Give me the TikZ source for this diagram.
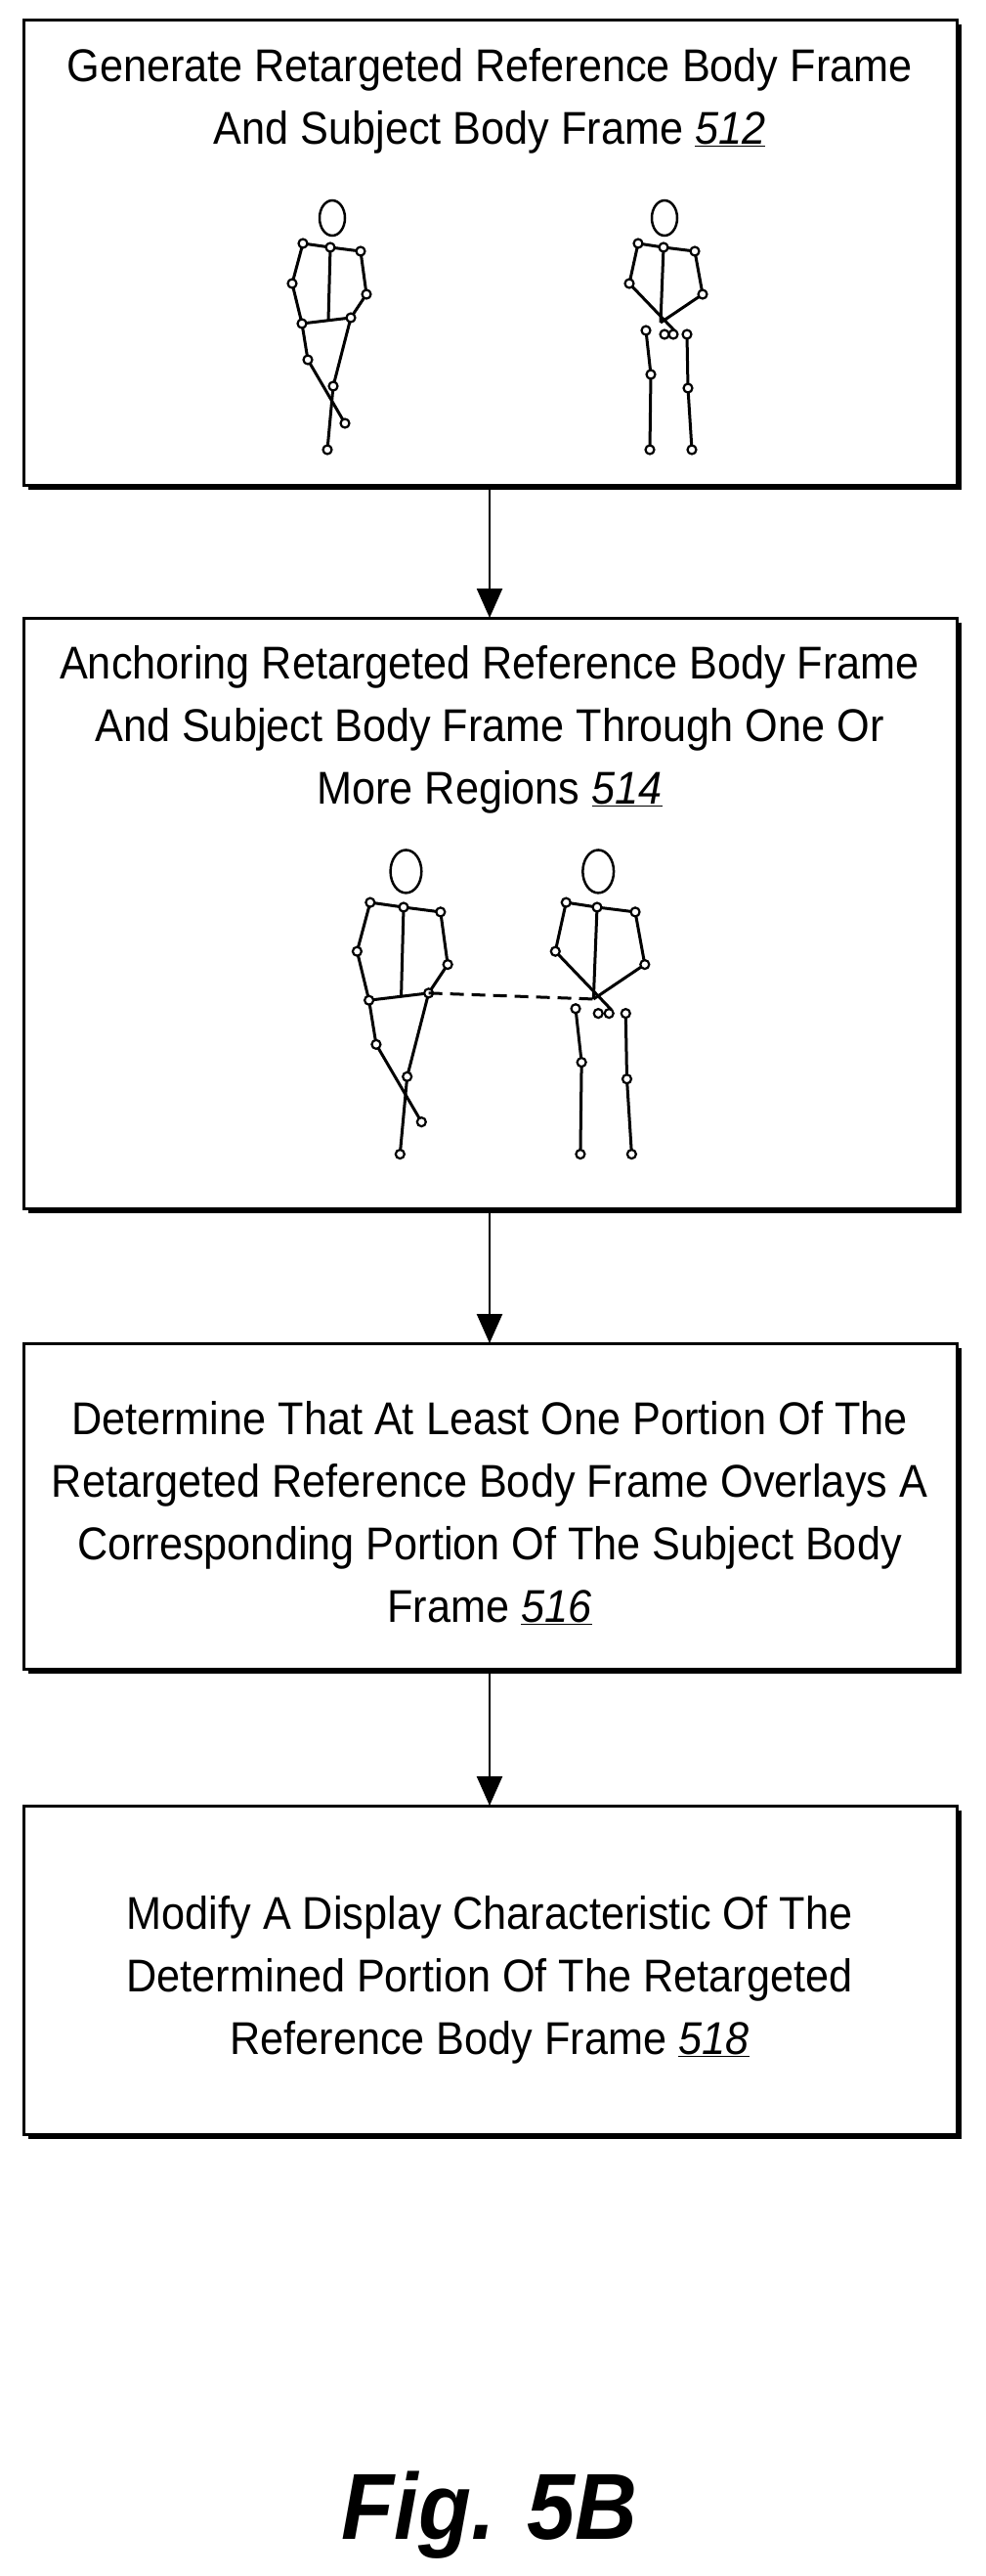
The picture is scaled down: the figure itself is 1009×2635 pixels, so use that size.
\documentclass[tikz,border=0pt]{standalone}
\usepackage{fontspec}
\setmainfont[FakeStretch=0.92]{Liberation Sans}
\usetikzlibrary{positioning,arrows.meta}

\tikzset{
  boxtext/.style={align=center, font=\fontsize{47}{64}\selectfont},
  flow/.style={line width=2.5pt, -{Triangle[length=30pt, width=26pt]}},
  bone/.style={line width=3pt},
  joint/.style={draw, line width=2.2pt, fill=white, circle, inner sep=0pt, minimum size=9pt},
  refbody/.pic={
    \coordinate (-neck) at (0,0);
    \coordinate (-lsh) at (-28,-4);  \coordinate (-rsh) at (31,4);
    \coordinate (-lel) at (-39,37);  \coordinate (-rel) at (37,48);
    \coordinate (-lhip) at (-29,78); \coordinate (-rhip) at (21,72);
    \coordinate (-lkn) at (-23,115); \coordinate (-rkn) at (3,142);
    \coordinate (-la) at (15,180);   \coordinate (-ra) at (-3,207);
    \draw[line width=2.5pt] (2,-30) ellipse (13 and 18);
    \draw[bone] (-lsh) -- (-neck) -- (-rsh);
    \draw[bone] (-neck) -- (-2,75);
    \draw[bone] (-lsh) -- (-lel) -- (-lhip) -- (-rhip) -- (-rel) -- (-rsh);
    \draw[bone] (-lhip) -- (-lkn) -- (-la);
    \draw[bone] (-rhip) -- (-rkn) -- (-ra);
    \foreach \j in {neck,lsh,rsh,lel,rel,lhip,rhip,lkn,rkn,la,ra}
      \node[joint] at (-\j) {};
  },
  subjbody/.pic={
    \coordinate (-neck) at (0,0);
    \coordinate (-lsh) at (-26,-4);  \coordinate (-rsh) at (32,4);
    \coordinate (-lel) at (-35,37);  \coordinate (-rel) at (40,48);
    \coordinate (-hand) at (-3,77);
    \coordinate (-lhip) at (-18,85); \coordinate (-rhip) at (24,89);
    \coordinate (-lkn) at (-13,130); \coordinate (-rkn) at (25,144);
    \coordinate (-la) at (-14,207);  \coordinate (-ra) at (29,207);
    \draw[line width=2.5pt] (1,-30) ellipse (13 and 18);
    \draw[bone] (-lsh) -- (-neck) -- (-rsh);
    \draw[bone] (-neck) -- (-hand);
    \draw[bone] (-lsh) -- (-lel) -- (12,86);
    \draw[bone] (-rsh) -- (-rel) -- (-hand);
    \draw[bone] (-lhip) -- (-lkn) -- (-la);
    \draw[bone] (-rhip) -- (-rkn) -- (-ra);
    \foreach \j in {neck,lsh,rsh,lel,rel,lhip,rhip,lkn,rkn,la,ra}
      \node[joint] at (-\j) {};
    \node[joint] at (1,89) {};
    \node[joint] at (10,89) {};
  }
}

\begin{document}
\begin{tikzpicture}[x=1pt, y=-1pt]
  \useasboundingbox[fill=white] (0,0) rectangle (1009,2635);

  % boxes with drop shadow
  \foreach \t/\b in {20/496, 632/1236, 1374/1707, 1847/2183}
    \fill (29,\t+5) rectangle (984,\b+5);
  \draw[line width=3pt, fill=white] (24,20) rectangle (979,496);
  \draw[line width=3pt, fill=white] (24,632) rectangle (979,1236);
  \draw[line width=3pt, fill=white] (24,1374) rectangle (979,1707);
  \draw[line width=3pt, fill=white] (24,1847) rectangle (979,2183);
  \coordinate (b1s) at (501,501);  \coordinate (b2n) at (501,632);
  \coordinate (b2s) at (501,1241); \coordinate (b3n) at (501,1374);
  \coordinate (b3s) at (501,1712); \coordinate (b4n) at (501,1847);

  \node[boxtext] (t512) at (501,103) {Generate Retargeted Reference Body Frame\\And Subject Body Frame \underline{\textit{512}}};
  \node[boxtext] (t514) at (501,746) {Anchoring Retargeted Reference Body Frame\\And Subject Body Frame Through One Or\\More Regions \underline{\textit{514}}};
  \node[boxtext] (t516) at (501,1548) {Determine That At Least One Portion Of The\\Retargeted Reference Body Frame Overlays A\\Corresponding Portion Of The Subject Body\\Frame \underline{\textit{516}}};
  \node[boxtext] (t518) at (501,2025) {Modify A Display Characteristic Of The\\Determined Portion Of The Retargeted\\Reference Body Frame \underline{\textit{518}}};

  % stick figures
  \pic (ra) at (338,253) {refbody};
  \pic (sa) at (679,253) {subjbody};
  \pic[scale=1.22] (rb) at (413,928) {refbody};
  \pic[scale=1.22] (sb) at (611,928) {subjbody};
  \draw[line width=3pt, dash pattern=on 14pt off 8pt] (rb-rhip) -- (sb-hand);

  \draw[flow] (b1s) -- (b2n);
  \draw[flow] (b2s) -- (b3n);
  \draw[flow] (b3s) -- (b4n);

  \node[font=\fontsize{96}{110}\selectfont\bfseries\itshape] (fig) at (501,2573) {Fig. 5B};
\end{tikzpicture}
\end{document}
